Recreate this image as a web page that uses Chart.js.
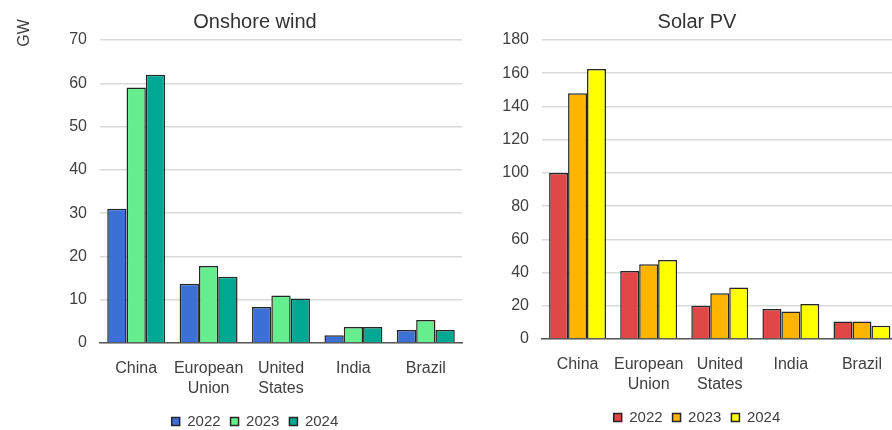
<!DOCTYPE html>
<html>
<head>
<meta charset="utf-8">
<script src="https://cdn.jsdelivr.net/npm/chart.js@4.4.1/dist/chart.umd.min.js"></script>
<style>
  html, body { margin: 0; padding: 0; background: #ffffff; overflow: hidden; width: 892px; height: 430px; }
  .box { position: absolute; top: 0; }
  #leftBox { left: 0; width: 510px; height: 430px; }
  #rightBox { left: 490px; width: 414px; height: 426px; }
</style>
</head>
<body>
<div id="leftBox" class="box"><canvas id="wind"></canvas></div>
<div id="rightBox" class="box"><canvas id="solar"></canvas></div>
<script>
// ---- data ----
const categories = [['China'], ['European', 'Union'], ['United', 'States'], ['India'], ['Brazil']];
const years = ['2022', '2023', '2024'];

const windTitle = 'Onshore wind';
const wind2022 = [31, 13.7, 8.3, 1.8, 3.0];
const wind2023 = [59, 17.8, 11.0, 3.7, 5.3];
const wind2024 = [62, 15.3, 10.3, 3.7, 3.0];
const windTicksMax = 70;
const windTickStep = 10;

const solarTitle = 'Solar PV';
const solar2022 = [100, 41, 20, 18, 10.5];
const solar2023 = [148, 45, 27.5, 16.5, 10.5];
const solar2024 = [162.5, 47.5, 31, 21, 8];
const solarTicksMax = 180;
const solarTickStep = 20;

const unitLabel = 'GW';

// ---- styles ----
const windColors = ['#3b70d4', '#66ee8e', '#00a893'];
const solarColors = ['#e04848', '#ffb400', '#ffff00'];
const FONT = "'Liberation Sans', Arial, sans-serif";
const TEXT = '#404040';

function makeDatasets(seriesList, colors) {
  return seriesList.map((vals, i) => ({
    label: years[i],
    data: vals,
    backgroundColor: colors[i],
    borderColor: '#262626',
    borderWidth: 1.5,
    categoryPercentage: 0.8,
    barPercentage: 1.0
  }));
}

const unitPlugin = {
  id: 'unitLabel',
  afterDraw(chart, args, opts) {
    if (!opts || !opts.text) return;
    const ctx = chart.ctx;
    ctx.save();
    ctx.translate(opts.x, opts.y);
    ctx.rotate(-Math.PI / 2);
    ctx.font = '16px ' + FONT;
    ctx.fillStyle = TEXT;
    ctx.textAlign = 'center';
    ctx.textBaseline = 'middle';
    ctx.fillText(opts.text, 0, 0);
    ctx.restore();
  }
};

function makeChart(id, title, datasets, max, step, yWidth, rightSpace, xHeight, unit) {
  return new Chart(document.getElementById(id), {
    type: 'bar',
    data: { labels: categories, datasets: datasets },
    plugins: [unitPlugin],
    options: {
      responsive: true,
      maintainAspectRatio: false,
      animation: false,
      layout: { padding: { left: 0, right: 0, top: 0, bottom: -9 } },
      plugins: {
        tooltip: { enabled: false },
        title: {
          display: true,
          text: title,
          color: '#333333',
          font: { family: FONT, size: 20, weight: 'normal' },
          padding: { top: 10, bottom: 6 }
        },
        legend: {
          position: 'bottom',
          labels: {
            boxWidth: 8,
            boxHeight: 8,
            padding: 10,
            color: TEXT,
            font: { family: FONT, size: 15 }
          }
        },
        unitLabel: unit
      },
      scales: {
        x: {
          grid: { display: false },
          border: { display: true, color: '#595959', width: 1.5 },
          ticks: {
            color: TEXT,
            font: { family: FONT, size: 16, lineHeight: 1.25 },
            padding: 8,
            maxRotation: 0,
            autoSkip: false
          },
          afterFit(s) { s.height = xHeight; }
        },
        y: {
          min: 0,
          max: max,
          grid: { color: '#d9d9d9', lineWidth: 1.5, drawTicks: false },
          border: { display: false },
          ticks: {
            stepSize: step,
            color: TEXT,
            font: { family: FONT, size: 16 },
            padding: 13
          },
          afterFit(s) { s.width = yWidth; }
        },
        spacer: {
          type: 'linear',
          position: 'right',
          display: true,
          grid: { display: false },
          border: { display: false },
          ticks: { display: false },
          afterFit(s) { s.width = rightSpace; }
        }
      }
    }
  });
}

makeChart('wind', windTitle,
  makeDatasets([wind2022, wind2023, wind2024], windColors),
  windTicksMax, windTickStep, 100, 48, 61,
  { text: unitLabel, x: 25, y: 33 });

makeChart('solar', solarTitle,
  makeDatasets([solar2022, solar2023, solar2024], solarColors),
  solarTicksMax, solarTickStep, 52, 6.5, 61, null);
</script>
</body>
</html>
